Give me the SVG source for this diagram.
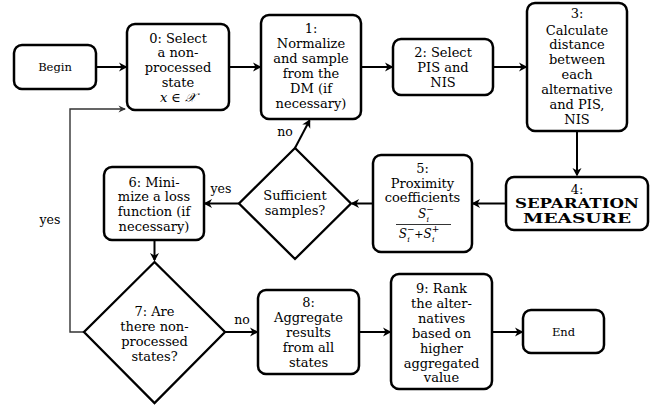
<svg xmlns="http://www.w3.org/2000/svg" width="658" height="407" viewBox="0 0 658 407" font-family="'DejaVu Serif', 'Liberation Serif', serif">
<defs>
<style>
.box{fill:#fff;stroke:#000;stroke-width:2.5}
.dia{fill:#fff;stroke:#000;stroke-width:2.3;stroke-linejoin:miter}
text{font-family:'DejaVu Serif','Liberation Serif',serif;font-size:13px;fill:#000;text-anchor:middle}
.sm{font-size:11.5px}
.lbl{font-size:12.5px}
.b{font-weight:bold}
.it{font-style:italic}
.edge{fill:none;stroke:#000;stroke-width:2}
.loop{fill:none;stroke:#333;stroke-width:1.4}
</style>
<marker id="ah" viewBox="-9 -6 12 12" markerWidth="12" markerHeight="12" refX="0" refY="0" orient="auto" markerUnits="userSpaceOnUse">
<path d="M1.5,0 L-7,-4.5 L-4.5,0 L-7,4.5 Z" fill="#000"/>
</marker>
<marker id="ahg" viewBox="-9 -6 12 12" markerWidth="12" markerHeight="12" refX="0" refY="0" orient="auto" markerUnits="userSpaceOnUse">
<path d="M1,0 L-6.5,-3.5 L-4.2,0 L-6.5,3.5 Z" fill="#333"/>
</marker>
</defs>
<rect width="658" height="407" fill="#fff"/>

<g id="connectors">
<path class="edge" d="M96,67 H126" marker-end="url(#ah)"/>
<path class="edge" d="M229,67 H260" marker-end="url(#ah)"/>
<path class="edge" d="M361,67 H392" marker-end="url(#ah)"/>
<path class="edge" d="M493,67 H526" marker-end="url(#ah)"/>
<path class="edge" d="M577,131 V175" marker-end="url(#ah)"/>
<path class="edge" d="M506,203.5 H473" marker-end="url(#ah)"/>
<path class="edge" d="M373,203.5 H352" marker-end="url(#ah)"/>
<path class="edge" d="M239,203.5 H205" marker-end="url(#ah)"/>
<path class="edge" d="M295,148 L309.5,120.5" marker-end="url(#ah)"/>
<path class="edge" d="M154.5,240 V260" marker-end="url(#ah)"/>
<path class="edge" d="M225,332 H257" marker-end="url(#ah)"/>
<path class="edge" d="M359,332 H390" marker-end="url(#ah)"/>
<path class="edge" d="M492,332 H522" marker-end="url(#ah)"/>
<path class="loop" d="M84,332 H70 V109 H125" marker-end="url(#ahg)"/>
<text class="lbl" x="285" y="136">no</text>
<text class="lbl" x="221" y="193">yes</text>
<text class="lbl" x="50" y="224">yes</text>
<text class="lbl" x="242" y="324">no</text>
</g>

<g id="begin">
<rect class="box" x="14" y="45" width="82" height="44" rx="8"/>
<text class="sm" x="55" y="71">Begin</text>
</g>

<g id="n0">
<rect class="box" x="127" y="24" width="102" height="86" rx="8"/>
<text x="178" y="42.5">0:  Select</text>
<text x="178" y="57">a non-</text>
<text x="178" y="72">processed</text>
<text x="178" y="87">state</text>
<text x="178" y="101.5"><tspan class="it">x</tspan> ∈ <tspan class="it">𝒳</tspan></text>
</g>

<g id="n1">
<rect class="box" x="261" y="15" width="100" height="104" rx="8"/>
<text x="311" y="32.5">1:</text>
<text x="311" y="47.5">Normalize</text>
<text x="311" y="62.5">and sample</text>
<text x="311" y="77.5">from the</text>
<text x="311" y="92.5">DM (if</text>
<text x="311" y="107.5">necessary)</text>
</g>

<g id="n2">
<rect class="box" x="393" y="39" width="100" height="56" rx="8"/>
<text x="443" y="56.5">2:  Select</text>
<text x="443" y="71.5">PIS and</text>
<text x="443" y="86.5">NIS</text>
</g>

<g id="n3">
<rect class="box" x="527" y="3" width="100" height="128" rx="8"/>
<text x="577" y="18">3:</text>
<text x="577" y="34.5">Calculate</text>
<text x="577" y="49">distance</text>
<text x="577" y="64">between</text>
<text x="577" y="78.5">each</text>
<text x="577" y="93.5">alternative</text>
<text x="577" y="108.5">and PIS,</text>
<text x="577" y="123.5">NIS</text>
</g>

<g id="n4">
<rect class="box" x="506" y="177" width="142" height="53" rx="8"/>
<text x="577" y="193.5">4:</text>
<text class="b" x="577" y="208" textLength="124" lengthAdjust="spacingAndGlyphs">SEPARATION</text>
<text class="b" x="577" y="223" textLength="108" lengthAdjust="spacingAndGlyphs">MEASURE</text>
</g>

<g id="n5">
<rect class="box" x="373" y="155" width="99" height="97" rx="8"/>
<text x="422.5" y="172.5">5:</text>
<text x="422.5" y="187.5">Proximity</text>
<text x="422.5" y="201.5">coefficients</text>
<text x="426" y="218"><tspan class="it" font-size="12">S</tspan><tspan font-size="9" dy="-6.5">−</tspan><tspan class="it" font-size="8" dx="-7.3" dy="10">i</tspan></text>
<line x1="396" y1="224.5" x2="451" y2="224.5" stroke="#000" stroke-width="0.8"/>
<text x="419" y="237.5"><tspan class="it" font-size="12">S</tspan><tspan font-size="9" dy="-6">−</tspan><tspan class="it" font-size="8" dx="-7.3" dy="10">i</tspan><tspan font-size="11" dx="4.5" dy="-4">+</tspan><tspan class="it" font-size="12">S</tspan><tspan font-size="9" dy="-6">+</tspan><tspan class="it" font-size="8" dx="-7.3" dy="10">i</tspan></text>
</g>

<g id="d_sufficient">
<polygon class="dia" points="295,148 351,203.5 295,259 239,203.5"/>
<text x="295" y="199.5">Sufficient</text>
<text x="295" y="214.5">samples?</text>
</g>

<g id="n6">
<rect class="box" x="104" y="167" width="100" height="73" rx="8"/>
<text x="154" y="186.5">6:  Mini-</text>
<text x="154" y="201">mize a loss</text>
<text x="154" y="215.5">function (if</text>
<text x="154" y="230.5">necessary)</text>
</g>

<g id="d7">
<polygon class="dia" points="154.5,262 225,332 154.5,403 84,332"/>
<text x="154.5" y="315.5">7:  Are</text>
<text x="154.5" y="330.5">there non-</text>
<text x="154.5" y="345.5">processed</text>
<text x="154.5" y="360.5">states?</text>
</g>

<g id="n8">
<rect class="box" x="258" y="290" width="101" height="84" rx="8"/>
<text x="308.5" y="306.5">8:</text>
<text x="308.5" y="321.5">Aggregate</text>
<text x="308.5" y="336.5">results</text>
<text x="308.5" y="351.5">from all</text>
<text x="308.5" y="366.5">states</text>
</g>

<g id="n9">
<rect class="box" x="391" y="274" width="101" height="115" rx="8"/>
<text x="441.5" y="292.5">9:  Rank</text>
<text x="441.5" y="307.5">the alter-</text>
<text x="441.5" y="322.5">natives</text>
<text x="441.5" y="337.5">based on</text>
<text x="441.5" y="352.5">higher</text>
<text x="441.5" y="367.5">aggregated</text>
<text x="441.5" y="381.5">value</text>
</g>

<g id="end">
<rect class="box" x="523" y="310" width="81" height="43" rx="8"/>
<text class="sm" x="563.5" y="336">End</text>
</g>
</svg>
